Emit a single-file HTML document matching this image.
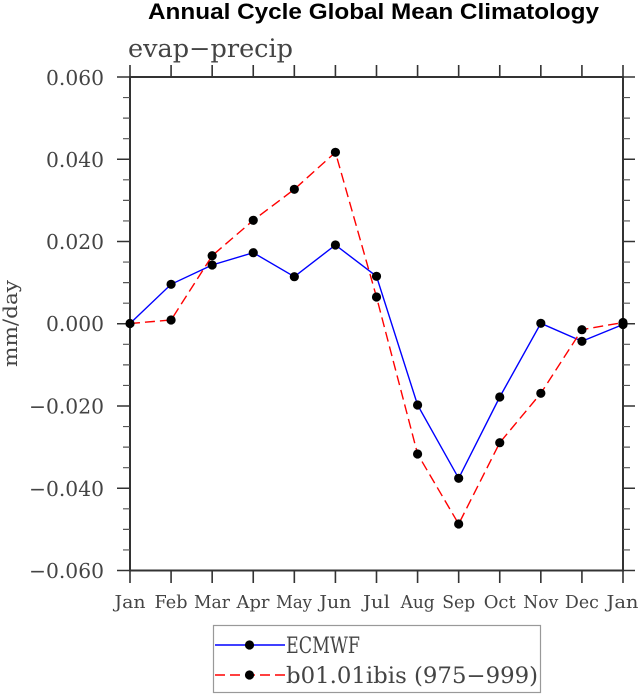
<!DOCTYPE html>
<html><head><meta charset="utf-8"><style>
html,body{margin:0;padding:0;background:#fff;}
svg{display:block;}
</style></head><body>
<svg width="639" height="694" viewBox="0 0 639 694" xmlns="http://www.w3.org/2000/svg">
<rect width="639" height="694" fill="#fff"/>
<text x="148" y="19" font-family="Liberation Sans, Arial, sans-serif" font-weight="bold" font-size="22" textLength="451" lengthAdjust="spacingAndGlyphs" fill="#000">Annual Cycle Global Mean Climatology</text>
<text x="128" y="57" font-family="DejaVu Serif, Liberation Serif, serif" font-size="25" textLength="165" lengthAdjust="spacingAndGlyphs" fill="#444">evap−precip</text>

<g stroke="#333" stroke-width="2" fill="none">
<rect x="130" y="77" width="493" height="493.5"/>
</g>
<g stroke="#333" stroke-width="1.6">
<path d="M117 77H130M117 159.25H130M117 241.5H130M117 323.75H130M117 406H130M117 488.25H130M117 570.5H130"/>
<path d="M623 77H635M623 159.25H635M623 241.5H635M623 323.75H635M623 406H635M623 488.25H635M623 570.5H635"/>
<path d="M130 65V77M171.08 65V77M212.17 65V77M253.25 65V77M294.33 65V77M335.42 65V77M376.5 65V77M417.58 65V77M458.67 65V77M499.75 65V77M540.83 65V77M581.92 65V77M623 65V77"/>
<path d="M130 570V583M171.08 570V583M212.17 570V583M253.25 570V583M294.33 570V583M335.42 570V583M376.5 570V583M417.58 570V583M458.67 570V583M499.75 570V583M540.83 570V583M581.92 570V583M623 570V583"/>
</g>
<g stroke="#555" stroke-width="1.2">
<path d="M123 97.56H130M123 118.13H130M123 138.69H130M123 179.81H130M123 200.38H130M123 220.94H130M123 262.06H130M123 282.63H130M123 303.19H130M123 344.31H130M123 364.88H130M123 385.44H130M123 426.56H130M123 447.13H130M123 467.69H130M123 508.81H130M123 529.38H130M123 549.94H130"/>
<path d="M623 97.56H630M623 118.13H630M623 138.69H630M623 179.81H630M623 200.38H630M623 220.94H630M623 262.06H630M623 282.63H630M623 303.19H630M623 344.31H630M623 364.88H630M623 385.44H630M623 426.56H630M623 447.13H630M623 467.69H630M623 508.81H630M623 529.38H630M623 549.94H630"/>
</g>

<g font-family="DejaVu Serif, Liberation Serif, serif" font-size="20.5" fill="#444" text-anchor="end">
<text x="104" y="85" textLength="58" lengthAdjust="spacingAndGlyphs">0.060</text>
<text x="104" y="167" textLength="58" lengthAdjust="spacingAndGlyphs">0.040</text>
<text x="104" y="249" textLength="58" lengthAdjust="spacingAndGlyphs">0.020</text>
<text x="104" y="331" textLength="58" lengthAdjust="spacingAndGlyphs">0.000</text>
<text x="104" y="413.5" textLength="75" lengthAdjust="spacingAndGlyphs">−0.020</text>
<text x="104" y="496" textLength="75" lengthAdjust="spacingAndGlyphs">−0.040</text>
<text x="104" y="578" textLength="75" lengthAdjust="spacingAndGlyphs">−0.060</text>
</g>

<g font-family="DejaVu Serif, Liberation Serif, serif" font-size="18" fill="#444" text-anchor="middle">
<text x="130" y="608" textLength="31" lengthAdjust="spacingAndGlyphs">Jan</text>
<text x="171" y="608" textLength="33" lengthAdjust="spacingAndGlyphs">Feb</text>
<text x="212" y="608" textLength="36" lengthAdjust="spacingAndGlyphs">Mar</text>
<text x="253" y="608" textLength="33" lengthAdjust="spacingAndGlyphs">Apr</text>
<text x="294" y="608" textLength="36" lengthAdjust="spacingAndGlyphs">May</text>
<text x="335.4" y="608" textLength="32" lengthAdjust="spacingAndGlyphs">Jun</text>
<text x="376.5" y="608" textLength="27" lengthAdjust="spacingAndGlyphs">Jul</text>
<text x="417.6" y="608" textLength="34" lengthAdjust="spacingAndGlyphs">Aug</text>
<text x="458.7" y="608" textLength="33" lengthAdjust="spacingAndGlyphs">Sep</text>
<text x="499.7" y="608" textLength="32" lengthAdjust="spacingAndGlyphs">Oct</text>
<text x="540.8" y="608" textLength="35" lengthAdjust="spacingAndGlyphs">Nov</text>
<text x="581.9" y="608" textLength="34" lengthAdjust="spacingAndGlyphs">Dec</text>
<text x="622.5" y="608" textLength="32" lengthAdjust="spacingAndGlyphs">Jan</text>
</g>

<text transform="translate(17,323.5) rotate(-90)" x="0" y="0" text-anchor="middle" font-family="DejaVu Serif, Liberation Serif, serif" font-size="20" fill="#444" textLength="87" lengthAdjust="spacingAndGlyphs">mm/day</text>

<polyline fill="none" stroke="#0000ff" stroke-width="1.4" points="130,323.5 171.08,284.3 212.17,265 253.25,252.7 294.33,276.7 335.42,245 376.5,276.3 417.58,405 458.67,478.3 499.75,397 540.83,323.3 581.92,341.3 623,324.5"/>
<polyline fill="none" stroke="#ff0000" stroke-width="1.4" stroke-dasharray="10 5" points="130,323.5 171.08,320 212.17,255.7 253.25,220.3 294.33,189.3 335.42,152.3 376.5,297 417.58,454 458.67,524 499.75,442.7 540.83,393.3 581.92,329.7 623,322.5"/>

<g fill="#000">
<circle cx="130" cy="323.5" r="4.6"/><circle cx="171.08" cy="284.3" r="4.6"/><circle cx="212.17" cy="265" r="4.6"/><circle cx="253.25" cy="252.7" r="4.6"/><circle cx="294.33" cy="276.7" r="4.6"/><circle cx="335.42" cy="245" r="4.6"/><circle cx="376.5" cy="276.3" r="4.6"/><circle cx="417.58" cy="405" r="4.6"/><circle cx="458.67" cy="478.3" r="4.6"/><circle cx="499.75" cy="397" r="4.6"/><circle cx="540.83" cy="323.3" r="4.6"/><circle cx="581.92" cy="341.3" r="4.6"/><circle cx="623" cy="324.5" r="4.6"/>
<circle cx="171.08" cy="320" r="4.6"/><circle cx="212.17" cy="255.7" r="4.6"/><circle cx="253.25" cy="220.3" r="4.6"/><circle cx="294.33" cy="189.3" r="4.6"/><circle cx="335.42" cy="152.3" r="4.6"/><circle cx="376.5" cy="297" r="4.6"/><circle cx="417.58" cy="454" r="4.6"/><circle cx="458.67" cy="524" r="4.6"/><circle cx="499.75" cy="442.7" r="4.6"/><circle cx="540.83" cy="393.3" r="4.6"/><circle cx="581.92" cy="329.7" r="4.6"/><circle cx="623" cy="322.5" r="4.6"/>
</g>

<rect x="213.5" y="625.5" width="327" height="67" fill="#fff" stroke="#999" stroke-width="1.2"/>
<line x1="215" y1="645" x2="285" y2="645" stroke="#0000ff" stroke-width="1.4"/>
<circle cx="249.5" cy="645" r="4.6" fill="#000"/>
<line x1="215" y1="675" x2="285" y2="675" stroke="#ff0000" stroke-width="1.4" stroke-dasharray="10 5"/>
<circle cx="249.5" cy="675" r="4.6" fill="#000"/>
<g font-family="DejaVu Serif, Liberation Serif, serif" font-size="22" fill="#444">
<text x="286" y="653" textLength="74" lengthAdjust="spacingAndGlyphs">ECMWF</text>
<text x="286" y="683" textLength="252" lengthAdjust="spacingAndGlyphs">b01.01ibis (975−999)</text>
</g>
</svg>
</body></html>
